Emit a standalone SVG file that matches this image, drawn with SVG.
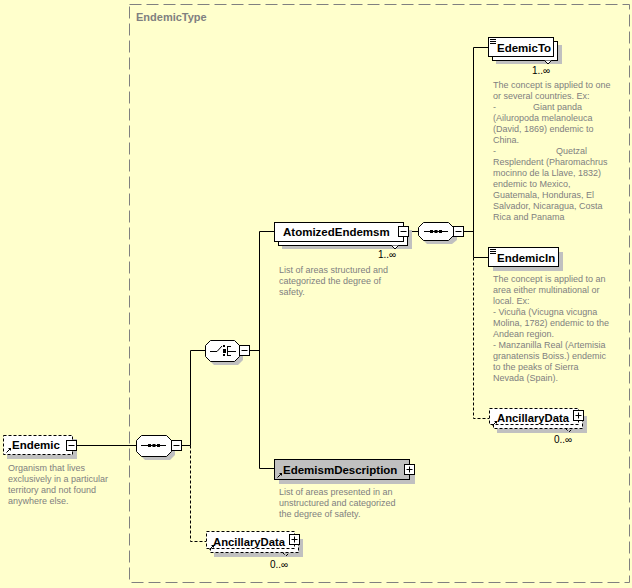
<svg xmlns="http://www.w3.org/2000/svg" width="632" height="588" viewBox="0 0 632 588">
<style>
.lbl{font-family:"Liberation Sans",Arial,sans-serif;font-size:11.5px;font-weight:bold;fill:#000}
.desc{font-family:"Liberation Sans",Arial,sans-serif;font-size:9px;fill:#808080}
.occ{font-family:"Liberation Sans",Arial,sans-serif;font-size:10px;fill:#000}
.type{font-family:"Liberation Sans",Arial,sans-serif;font-size:11px;font-weight:bold;fill:#808080}
.box{fill:#fff;stroke:#000;stroke-width:1}
.dbox{fill:#fff;stroke:#000;stroke-width:1;stroke-dasharray:3,2}
.gbox{fill:#c0c0c0;stroke:#000;stroke-width:1}
.sh{fill:#c0c0c0;stroke:none}
.ln{fill:none;stroke:#000;stroke-width:1}
.dln{fill:none;stroke:#000;stroke-width:1;stroke-dasharray:3,2}
.sym{fill:none;stroke:#000;stroke-width:1}
</style>
<defs>
<g id="minus"><rect x="0.5" y="0.5" width="10" height="10" class="box"/><path d="M2.5 5.5H8.5" class="sym"/></g>
<g id="plus"><rect x="0.5" y="0.5" width="10" height="10" class="box"/><path d="M2.5 5.5H8.5M5.5 2.5V8.5" class="sym"/></g>
<g id="ref"><path d="M1.5 6.5L5.5 2.5" class="sym"/><path d="M3 2H6V5Z" fill="#000"/></g>
<g id="simple"><path d="M0 0.5H6M0 2.5H6M0 4.5H6" class="sym"/></g>
</defs>
<rect x="0" y="0" width="632" height="588" fill="#FFFFCC"/>

<g id="EndemicType">
<rect x="129.5" y="4.5" width="500" height="578" fill="none" stroke="#808080" stroke-dasharray="12,5"/>
<text x="136" y="21" class="type">EndemicType</text>
</g>

<g id="connectors">
<path d="M77 445.5H136" class="ln"/>
<path d="M181 445.5H190.5V350.5H206" class="ln"/>
<path d="M190.5 445.5V541.5H206" class="dln"/>
<path d="M249 350.5H259.5" class="ln"/>
<path d="M274 231.5H259.5V468.5H274" class="ln"/>
<path d="M408 231.5H419" class="ln"/>
<path d="M463 231.5H473.5" class="ln"/>
<path d="M488 47.5H473.5V257.5H488" class="ln"/>
<path d="M473.5 257.5V418.5H489" class="dln"/>
</g>

<g id="Endemic">
<rect x="7" y="439" width="70" height="20" class="sh"/>
<rect x="3.5" y="435.5" width="69" height="19" class="dbox"/>
<use href="#minus" x="66" y="440"/>
<use href="#ref" x="5" y="446"/>
<text x="12" y="449" class="lbl">Endemic</text>
<text class="desc"><tspan x="8" y="471">Organism that lives</tspan><tspan x="8" y="482">exclusively in a particular</tspan><tspan x="8" y="493">territory and not found</tspan><tspan x="8" y="504">anywhere else.</tspan></text>
</g>

<g id="seq1">
<path d="M145 439H170L175 444V455L170 460H145L140 455V444Z" class="sh"/>
<path d="M141.5 435.5H166.5L171.5 440.5V451.5L166.5 456.5H141.5L136.5 451.5V440.5Z" class="box"/>
<path d="M141 445.5H166" class="sym"/>
<rect x="148" y="444" width="3" height="3" fill="#000"/><rect x="152.5" y="444" width="3" height="3" fill="#000"/><rect x="157" y="444" width="3" height="3" fill="#000"/>
<use href="#minus" x="171" y="440"/>
</g>

<g id="choice">
<path d="M214 344H238L243 349V360L238 365H214L209 360V349Z" class="sh"/>
<path d="M210.5 340.5H234.5L239.5 345.5V356.5L234.5 361.5H210.5L205.5 356.5V345.5Z" class="box"/>
<path d="M210 351.5H217L222 346" class="sym"/>
<rect x="223" y="345" width="2" height="2" fill="#000"/><rect x="223" y="349" width="3" height="4" fill="#000"/><rect x="223" y="354" width="2" height="2" fill="#000"/>
<path d="M227.5 346V356M227.5 346.5H231M227.5 351.5H236M227.5 355.5H231" class="sym"/>
<use href="#minus" x="239" y="345"/>
</g>

<g id="AtomizedEndemsm">
<rect x="282" y="230" width="130" height="19" class="sh"/>
<rect x="278.5" y="226.5" width="129" height="19" class="box"/>
<rect x="274.5" y="222.5" width="129" height="19" class="box"/>
<path d="M391.5 245.5L395 249L398.5 245.5" class="box"/>
<use href="#minus" x="398" y="226"/>
<text x="283" y="236" class="lbl">AtomizedEndemsm</text>
<text x="378" y="258" class="occ">1..∞</text>
<text class="desc"><tspan x="279" y="273">List of areas structured and</tspan><tspan x="279" y="284">categorized the degree of</tspan><tspan x="279" y="295">safety.</tspan></text>
</g>

<g id="seq2">
<path d="M427 226H452L457 231V240L452 244H427L423 240V231Z" class="sh"/>
<path d="M423.5 222.5H448.5L453.5 227.5V235.5L448.5 240.5H423.5L418.5 235.5V227.5Z" class="box"/>
<path d="M424 231.5H448" class="sym"/>
<rect x="430" y="230" width="3" height="3" fill="#000"/><rect x="434.5" y="230" width="3" height="3" fill="#000"/><rect x="439" y="230" width="3" height="3" fill="#000"/>
<use href="#minus" x="453" y="226"/>
</g>

<g id="EdemicTo">
<rect x="496" y="45" width="66" height="19" class="sh"/>
<rect x="492.5" y="41.5" width="65" height="19" class="box"/>
<rect x="488.5" y="37.5" width="65" height="19" class="box"/>
<path d="M544.5 60.5L548 64L551.5 60.5" class="box"/>
<use href="#simple" x="490" y="39"/>
<text x="497" y="52" class="lbl">EdemicTo</text>
<text x="532" y="74" class="occ">1..∞</text>
<text class="desc"><tspan x="493" y="88">The concept is applied to one</tspan><tspan x="493" y="99">or several countries. Ex:</tspan><tspan x="493" y="110">-</tspan><tspan x="533" y="110">Giant panda</tspan><tspan x="493" y="121">(Ailuropoda melanoleuca</tspan><tspan x="493" y="132">(David, 1869) endemic to</tspan><tspan x="493" y="143">China.</tspan><tspan x="493" y="154">-</tspan><tspan x="556" y="154">Quetzal</tspan><tspan x="493" y="165">Resplendent (Pharomachrus</tspan><tspan x="493" y="176">mocinno de la Llave, 1832)</tspan><tspan x="493" y="187">endemic to Mexico,</tspan><tspan x="493" y="198">Guatemala, Honduras, El</tspan><tspan x="493" y="209">Salvador, Nicaragua, Costa</tspan><tspan x="493" y="220">Rica and Panama</tspan></text>
</g>

<g id="EndemicIn">
<rect x="493" y="252" width="70" height="19" class="sh"/>
<rect x="488.5" y="247.5" width="70" height="19" class="box"/>
<use href="#simple" x="490" y="249"/>
<text x="497" y="262" class="lbl">EndemicIn</text>
<text class="desc"><tspan x="493" y="282">The concept is applied to an</tspan><tspan x="493" y="293">area either multinational or</tspan><tspan x="493" y="304">local. Ex:</tspan><tspan x="493" y="315">- Vicuña (Vicugna vicugna</tspan><tspan x="493" y="326">Molina, 1782) endemic to the</tspan><tspan x="493" y="337">Andean region.</tspan><tspan x="493" y="348">- Manzanilla Real (Artemisia</tspan><tspan x="493" y="359">granatensis Boiss.) endemic</tspan><tspan x="493" y="370">to the peaks of Sierra</tspan><tspan x="493" y="381">Nevada (Spain).</tspan></text>
</g>

<g id="AncillaryData2">
<rect x="497" y="416" width="90" height="17" class="sh"/>
<rect x="493.5" y="412.5" width="89" height="16" class="dbox"/>
<rect x="489.5" y="408.5" width="89" height="16" class="dbox"/>
<path d="M565.5 428.5L569 432L572.5 428.5" class="dln"/>
<use href="#plus" x="573" y="410"/>
<use href="#ref" x="491" y="419"/>
<text x="497" y="422" class="lbl" textLength="72" lengthAdjust="spacingAndGlyphs">AncillaryData</text>
<text x="554" y="443" class="occ">0..∞</text>
</g>

<g id="EdemismDescription">
<rect x="279" y="464" width="136" height="20" class="sh"/>
<rect x="274.5" y="459.5" width="135" height="20" class="gbox"/>
<use href="#plus" x="404" y="464"/>
<use href="#ref" x="276" y="471"/>
<text x="283" y="474" class="lbl">EdemismDescription</text>
<text class="desc"><tspan x="279" y="495">List of areas presented in an</tspan><tspan x="279" y="506">unstructured and categorized</tspan><tspan x="279" y="517">the degree of safety.</tspan></text>
</g>

<g id="AncillaryData1">
<rect x="214" y="539" width="89" height="18" class="sh"/>
<rect x="210.5" y="535.5" width="88" height="17" class="dbox"/>
<rect x="206.5" y="531.5" width="88" height="17" class="dbox"/>
<path d="M282.5 552.5L286 556L289.5 552.5" class="dln"/>
<use href="#plus" x="289" y="534"/>
<use href="#ref" x="208" y="543"/>
<text x="213" y="546" class="lbl" textLength="72" lengthAdjust="spacingAndGlyphs">AncillaryData</text>
<text x="270" y="568" class="occ">0..∞</text>
</g>
</svg>
